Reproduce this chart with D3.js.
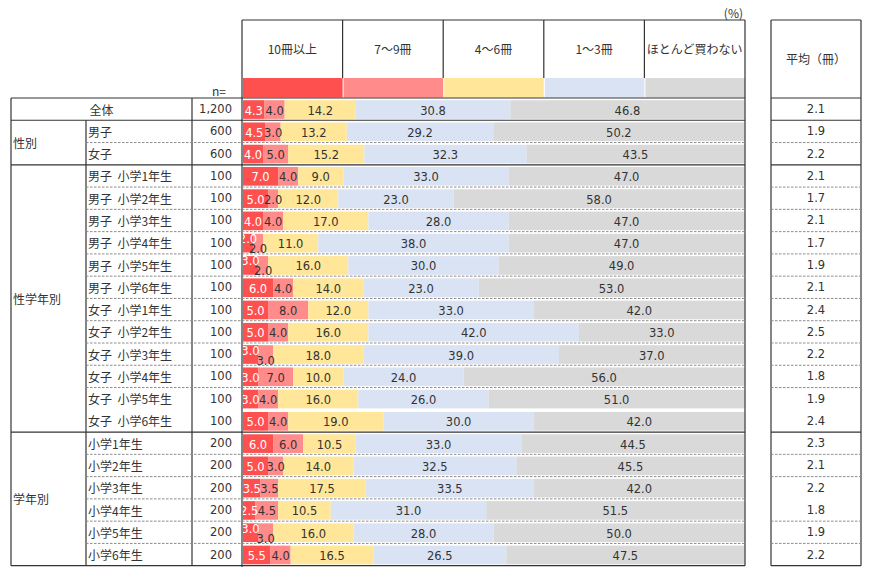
<!DOCTYPE html>
<html><head><meta charset="utf-8">
<script src="https://cdn.jsdelivr.net/npm/d3@7"></script>
<style>
html,body{margin:0;padding:0;background:#fff;}
svg{display:block;}
text{fill:#333;}
.jp{font-family:"Noto Sans CJK JP","Noto Sans",sans-serif;font-size:12px;}
.num{font-family:"DejaVu Sans",Verdana,sans-serif;font-size:11.5px;}
</style></head>
<body><svg id="c" width="870" height="575"></svg>
<script>
const categories = ["10冊以上", "7～9冊", "4～6冊", "1～3冊", "ほとんど買わない"];
const groupNames = ["全体", "性別", "性学年別", "学年別"];
const groupSizes = [1, 2, 12, 6];
const subLabels = ["全体", "男子", "女子",
  "男子  小学1年生", "男子  小学2年生", "男子  小学3年生", "男子  小学4年生", "男子  小学5年生", "男子  小学6年生",
  "女子  小学1年生", "女子  小学2年生", "女子  小学3年生", "女子  小学4年生", "女子  小学5年生", "女子  小学6年生",
  "小学1年生", "小学2年生", "小学3年生", "小学4年生", "小学5年生", "小学6年生"];
const nValues = ["1,200", "600", "600", "100", "100", "100", "100", "100", "100", "100", "100", "100", "100", "100", "100",
  "200", "200", "200", "200", "200", "200"];
const over10 = [4.3, 4.5, 4.0, 7.0, 5.0, 4.0, 2.0, 3.0, 6.0, 5.0, 5.0, 3.0, 3.0, 3.0, 5.0, 6.0, 5.0, 3.5, 2.5, 3.0, 5.5];
const from7to9 = [4.0, 3.0, 5.0, 4.0, 2.0, 4.0, 2.0, 2.0, 4.0, 8.0, 4.0, 3.0, 7.0, 4.0, 4.0, 6.0, 3.0, 3.5, 4.5, 3.0, 4.0];
const from4to6 = [14.2, 13.2, 15.2, 9.0, 12.0, 17.0, 11.0, 16.0, 14.0, 12.0, 16.0, 18.0, 10.0, 16.0, 19.0, 10.5, 14.0, 17.5, 10.5, 16.0, 16.5];
const from1to3 = [30.8, 29.2, 32.3, 33.0, 23.0, 28.0, 38.0, 30.0, 23.0, 33.0, 42.0, 39.0, 24.0, 26.0, 30.0, 33.0, 32.5, 33.5, 31.0, 28.0, 26.5];
const hardlyBuy = [46.8, 50.2, 43.5, 47.0, 58.0, 47.0, 47.0, 49.0, 53.0, 42.0, 33.0, 37.0, 56.0, 51.0, 42.0, 44.5, 45.5, 42.0, 51.5, 50.0, 47.5];
const averages = ["2.1", "1.9", "2.2", "2.1", "1.7", "2.1", "1.7", "1.9", "2.1", "2.4", "2.5", "2.2", "1.8", "1.9", "2.4",
  "2.3", "2.1", "2.2", "1.8", "1.9", "2.2"];

const colors = ["#FF5050", "#FF8B8B", "#FFE699", "#DAE3F3", "#D9D9D9"];
const series = [over10, from7to9, from4to6, from1to3, hardlyBuy];
const nRows = subLabels.length;

const svg = d3.select("#c");
const X0 = 11, XSUB = 86, XN = 192, XB = 242, XE = 745, XR0 = 771, XR1 = 861;
const HT = 20, SW = 78, TOP = 98, BOT = 565.7;

const x = d3.scaleLinear().domain([0, 100]).range([243, 744.5]);
const y = d3.scaleBand().domain(d3.range(nRows)).range([TOP, BOT]).padding(0);
const rh = y.bandwidth();
const hx = d3.scaleBand().domain(categories).range([XB, XE]);

const groupStart = [];
let acc = 0;
groupSizes.forEach(s => { groupStart.push(acc); acc += s; });

// header swatches
svg.selectAll("rect.sw").data(categories).join("rect")
  .attr("x", d => hx(d) + 1).attr("y", SW).attr("width", hx.bandwidth() - 1).attr("height", 19.5)
  .attr("fill", (d, i) => colors[i]);
svg.selectAll("text.hd").data(categories).join("text").attr("class", "jp")
  .attr("x", d => hx(d) + hx.bandwidth() / 2).attr("y", 48).attr("text-anchor", "middle")
  .attr("dominant-baseline", "central").text(d => d);

// bars
const rows = d3.range(nRows).map(r => {
  let c = 0;
  return series.map((s, k) => {
    const v = s[r];
    const seg = { r, k, v, x0: Math.min(c, 100), x1: Math.min(c + v, 100) };
    c += v;
    return seg;
  });
});
const segs = rows.flat();
svg.selectAll("rect.bar").data(segs).join("rect")
  .attr("x", d => x(d.x0)).attr("width", d => x(d.x1) - x(d.x0))
  .attr("y", d => y(d.r) + 2.2).attr("height", rh - 3.6)
  .attr("fill", d => colors[d.k]);

function labelDy(d) {
  const stagger = over10[d.r] + from7to9[d.r] <= 6;
  if (!stagger) return 0;
  if (d.k === 0) return -5;
  if (d.k === 1) return 5;
  return 0;
}
svg.selectAll("text.val").data(segs).join("text").attr("class", "num")
  .attr("x", d => x((d.x0 + d.x1) / 2)).attr("y", d => y(d.r) + 2.2 + (rh - 3.6) / 2 + 1 + labelDy(d))
  .attr("text-anchor", "middle").attr("dominant-baseline", "central")
  .style("fill", d => d.k === 0 ? "#fff" : "#333")
  .text(d => d.v.toFixed(1));

// lines
const solid = (x1, y1, x2, y2) => svg.append("line").attr("x1", x1).attr("y1", y1).attr("x2", x2).attr("y2", y2)
  .attr("stroke", "#333").attr("stroke-width", 1.2);
const dashed = (x1, y1, x2, y2) => svg.append("line").attr("x1", x1).attr("y1", y1).attr("x2", x2).attr("y2", y2)
  .attr("stroke", "#8c8c8c").attr("stroke-width", 1).attr("stroke-dasharray", "2.5,1.5");

solid(XB, HT, XE, HT);
solid(XB, HT, XB, 567);
solid(XE, HT, XE, BOT);
categories.slice(1).forEach(c => solid(hx(c), HT, hx(c), SW));
solid(XR0, HT, XR1, HT);
solid(XR0, HT, XR0, BOT);
solid(XR1, HT, XR1, BOT);

solid(X0, TOP, XE, TOP);
solid(XR0, TOP, XR1, TOP);
solid(X0, BOT, XE, BOT);
solid(XR0, BOT, XR1, BOT);
solid(X0, TOP, X0, BOT);
solid(XN, TOP, XN, BOT);
solid(XSUB, y(1), XSUB, BOT);

d3.range(1, nRows).forEach(r => {
  const yy = y(r);
  if (groupStart.includes(r)) {
    solid(X0, yy, XE, yy);
    solid(XR0, yy, XR1, yy);
  } else if (r !== 14) {
    dashed(XSUB, yy, XB, yy);
    dashed(XB, yy, XE, yy);
    if (r !== 18) dashed(XR0, yy, XR1, yy);
  }
});

groupNames.forEach((g, i) => {
  if (i === 0) return;
  const s = groupStart[i], e = s + groupSizes[i];
  svg.append("text").attr("class", "jp").attr("x", 13).attr("y", (y(s) + y(e - 1) + rh) / 2)
    .attr("dominant-baseline", "central").text(g);
});
svg.selectAll("text.sub").data(subLabels).join("text").attr("class", "jp")
  .attr("x", (d, i) => i === 0 ? (X0 + XN) / 2 : 88)
  .attr("text-anchor", (d, i) => i === 0 ? "middle" : "start")
  .attr("y", (d, i) => y(i) + rh / 2).attr("dominant-baseline", "central")
  .style("white-space", "pre").text(d => d);
svg.selectAll("text.n").data(nValues).join("text").attr("class", "num")
  .attr("x", 232).attr("y", (d, i) => y(i) + rh / 2).attr("text-anchor", "end")
  .attr("dominant-baseline", "central").text(d => d);
svg.selectAll("text.avg").data(averages).join("text").attr("class", "num")
  .attr("x", 816).attr("y", (d, i) => y(i) + rh / 2).attr("text-anchor", "middle")
  .attr("dominant-baseline", "central").text(d => d);

svg.append("text").attr("class", "jp").attr("x", 226).attr("y", 90).attr("text-anchor", "end")
  .attr("dominant-baseline", "central").text("n=");
svg.append("text").attr("class", "jp").attr("x", 743).attr("y", 12).attr("text-anchor", "end")
  .attr("dominant-baseline", "central").text("(%)");
svg.append("text").attr("class", "jp").attr("x", 816).attr("y", 58).attr("text-anchor", "middle")
  .attr("dominant-baseline", "central").text("平均（冊）");
</script></body></html>
